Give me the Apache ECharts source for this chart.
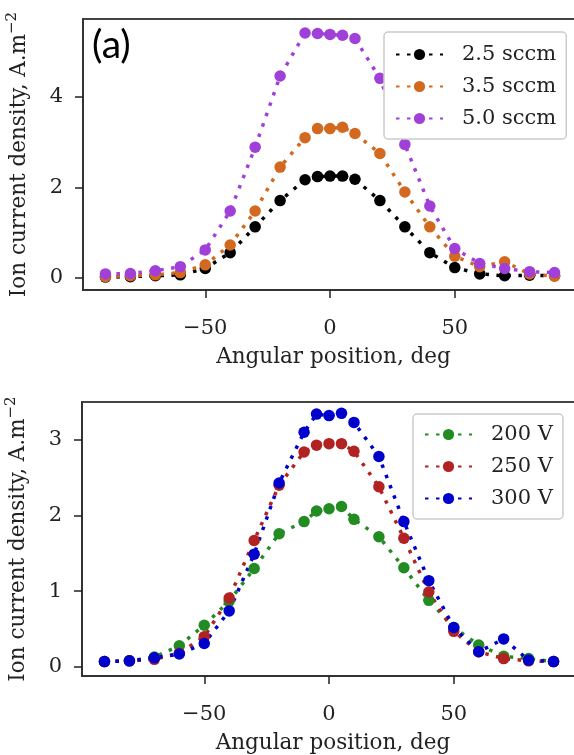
<!DOCTYPE html>
<html>
<head>
<meta charset="utf-8">
<script src="https://cdn.jsdelivr.net/npm/echarts@6/dist/echarts.min.js"></script>
<style>
html,body{margin:0;padding:0;background:#fff;}
#c{width:574px;height:755px;}
</style>
</head>
<body>
<div id="c"></div>
<script>
// Angular positions (deg), shared by all series
const angles = [-90,-80,-70,-60,-50,-40,-30,-20,-10,-5,0,5,10,20,30,40,50,60,70,80,90];

// Panel (a): gas flow series
const flowNames = ['2.5 sccm','3.5 sccm','5.0 sccm'];
const flow25 = [0.02,0.03,0.05,0.07,0.21,0.56,1.13,1.71,2.17,2.24,2.25,2.25,2.18,1.71,1.13,0.56,0.23,0.09,0.05,0.06,0.05];
const flow35 = [0.03,0.05,0.07,0.12,0.29,0.73,1.48,2.45,3.1,3.3,3.3,3.33,3.19,2.75,1.9,1.13,0.48,0.25,0.36,0.09,0.04];
const flow50 = [0.09,0.1,0.16,0.25,0.62,1.48,2.89,4.46,5.41,5.4,5.38,5.36,5.29,4.41,2.95,1.59,0.65,0.32,0.21,0.14,0.12];

// Panel (b): voltage series
const voltNames = ['200 V','250 V','300 V'];
const volt200 = [0.07,0.08,0.13,0.28,0.55,0.87,1.3,1.76,1.92,2.06,2.09,2.12,1.95,1.72,1.31,0.88,0.52,0.29,0.14,0.11,0.07];
const volt250 = [0.07,0.08,0.1,0.18,0.4,0.91,1.67,2.4,2.84,2.93,2.95,2.95,2.85,2.38,1.7,0.99,0.47,0.2,0.11,0.08,0.07];
const volt300 = [0.07,0.08,0.12,0.17,0.31,0.74,1.49,2.43,3.1,3.34,3.32,3.35,3.23,2.78,1.92,1.14,0.52,0.2,0.37,0.09,0.07];

// Tick values
const xTicks = [-50,0,50];
const yTicksA = [0,2,4];
const yTicksB = [0,1,2,3];

const FONT = 'DejaVu Serif';
const toPairs = ys => angles.map((a,i)=>[a, ys[i]]);

function xAxis(gridIndex, max){
  return {
    type:'value', gridIndex, min:-99, max,
    axisLine:{show:true, onZero:false, lineStyle:{color:'#333', width:2}},
    axisTick:{show:true, length:8, lineStyle:{color:'#222', width:1.5}, customValues:xTicks},
    axisLabel:{customValues:xTicks, margin:28, color:'#222', fontFamily:FONT, fontSize:21,
      formatter:v=> (v<0? '\u2212'+Math.abs(v) : String(v))},
    splitLine:{show:false},
    name:'Angular position, deg', nameLocation:'middle', nameGap:56,
    nameTextStyle:{fontFamily:FONT, fontSize:21.5, color:'#222'}
  };
}
function yAxis(gridIndex, min, max, ticks){
  return {
    type:'value', gridIndex, min, max,
    axisLine:{show:true, onZero:false, lineStyle:{color:'#333', width:2}},
    axisTick:{show:true, length:8, lineStyle:{color:'#222', width:1.5}, customValues:ticks},
    axisLabel:{customValues:ticks, margin:20, color:'#222', fontFamily:FONT, fontSize:21},
    splitLine:{show:false},
    name:'{a|Ion current density, A.m}{s|\u22122}', nameLocation:'middle', nameGap:50, nameRotate:90,
    nameTextStyle:{color:'#222', rich:{
      a:{fontFamily:FONT, fontSize:21.5, color:'#222', lineHeight:28},
      s:{fontFamily:FONT, fontSize:15, color:'#222', verticalAlign:'top', lineHeight:15}
    }}
  };
}
function series(name, data, color, xi){
  return {
    type:'line', name, xAxisIndex:xi, yAxisIndex:xi, data:toPairs(data),
    symbol:'circle', symbolSize:11.5, showSymbol:true,
    itemStyle:{color}, lineStyle:{color, width:3.5, type:[3.5,7.5], cap:'butt'},
    emphasis:{disabled:true}, animation:false
  };
}
const legendCommon = {
  orient:'vertical', itemWidth:47, itemHeight:14, itemGap:11,
  backgroundColor:'#fff', borderColor:'#ccc', borderWidth:1.5, borderRadius:4,
  textStyle:{fontFamily:FONT, fontSize:21, color:'#222', padding:[0,0,0,14]}
};

const chart = echarts.init(document.getElementById('c'), null, {renderer:'canvas'});
chart.setOption({
  backgroundColor:'#fff',
  animation:false,
  grid:[
    {left:83, top:19, right:-10, bottom:465, show:true, borderColor:'#444', borderWidth:2, outerBoundsMode:'none', containLabel:false},
    {left:82, top:402, right:-10, bottom:79, show:true, borderColor:'#444', borderWidth:2, outerBoundsMode:'none', containLabel:false}
  ],
  xAxis:[xAxis(0, 101.8), xAxis(1, 102.2)],
  yAxis:[yAxis(0,-0.265,5.72,yTicksA), yAxis(1,-0.12,3.5,yTicksB)],
  legend:[
    Object.assign({}, legendCommon, {data:flowNames, left:384, top:32, padding:[12,10,10,11]}),
    Object.assign({}, legendCommon, {data:voltNames, left:413, top:414, padding:[10,10,10,11]})
  ],
  graphic:[{type:'text', left:92, top:26, style:{text:'(a)', font:'39px Lato', fill:'#000'}}],
  series:[
    series(flowNames[0], flow25, '#000000', 0),
    series(flowNames[1], flow35, '#D2691E', 0),
    series(flowNames[2], flow50, '#A040D8', 0),
    series(voltNames[0], volt200, '#228B22', 1),
    series(voltNames[1], volt250, '#B22222', 1),
    series(voltNames[2], volt300, '#0000CD', 1)
  ]
});
</script>
</body>
</html>
